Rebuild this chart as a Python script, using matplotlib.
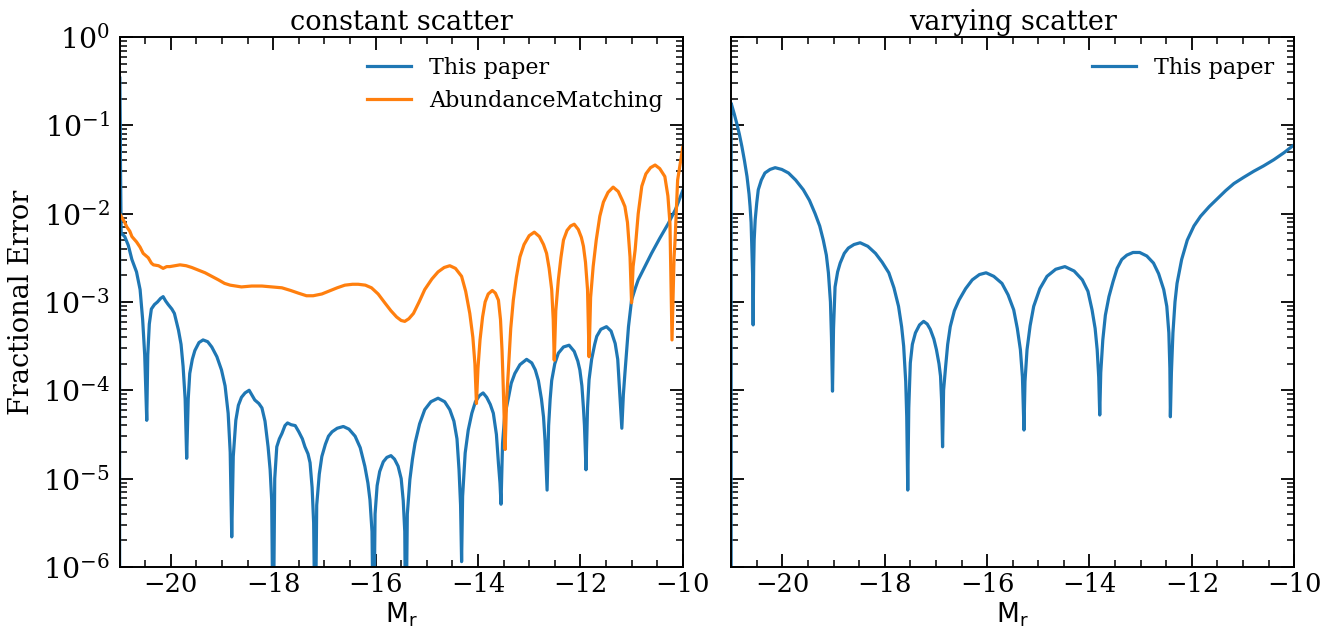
import numpy as np
import matplotlib
matplotlib.use("Agg")
import matplotlib.pyplot as plt
from matplotlib.ticker import LogLocator, MultipleLocator, NullFormatter

# ---------------- datos ----------------
# panel izquierdo, "This paper" (constant scatter): M_r y log10(error)
x_const_paper = [-21.0, -21.0, -20.97, -20.90, -20.83, -20.76, -20.67, -20.60, -20.55, -20.51,
                 -20.47,
                 -20.45, -20.42, -20.38, -20.32, -20.26, -20.20, -20.15, -20.10, -20.05, -19.98,
                 -19.93, -19.85, -19.80, -19.76, -19.72, -19.69,
                 -19.66, -19.63, -19.58, -19.53, -19.45, -19.37, -19.28, -19.20, -19.10, -19.01,
                 -18.94, -18.88, -18.84, -18.81,
                 -18.78, -18.73, -18.68, -18.62, -18.55, -18.47, -18.42, -18.36, -18.28, -18.22,
                 -18.16, -18.10, -18.06, -18.03, -18.00,
                 -17.97, -17.93, -17.88, -17.83, -17.77, -17.72, -17.65, -17.57, -17.50, -17.43,
                 -17.38, -17.32, -17.28, -17.24, -17.21, -17.18,
                 -17.15, -17.10, -17.05, -16.98, -16.92, -16.85, -16.75, -16.63, -16.52, -16.40,
                 -16.30, -16.21, -16.15, -16.11, -16.07, -16.04,
                 -16.01, -15.97, -15.92, -15.85, -15.78, -15.70, -15.63, -15.56, -15.50, -15.46,
                 -15.43, -15.41,
                 -15.38, -15.33, -15.28, -15.23, -15.14, -15.04, -14.92, -14.78, -14.65, -14.55,
                 -14.47, -14.41, -14.37, -14.34, -14.32,
                 -14.30, -14.25, -14.19, -14.12, -14.05, -13.97, -13.90, -13.83, -13.76, -13.70,
                 -13.64, -13.60, -13.57, -13.55,
                 -13.52, -13.48, -13.41, -13.35, -13.28, -13.18, -13.05, -12.95, -12.88, -12.82,
                 -12.76, -12.72, -12.69, -12.65,
                 -12.62, -12.59, -12.56, -12.50, -12.43, -12.33, -12.22, -12.12, -12.05, -12.01,
                 -11.97, -11.94, -11.92, -11.89,
                 -11.86, -11.83, -11.78, -11.72, -11.68, -11.60, -11.49, -11.40, -11.32, -11.27,
                 -11.23, -11.19,
                 -11.16, -11.13, -11.06, -11.00, -10.93, -10.87, -10.74, -10.61, -10.45, -10.28,
                 -10.14, -10.0]
logy_const_paper = [-7.0, -0.45, -2.22, -2.26, -2.36, -2.52, -2.66, -2.86, -3.20, -3.60,
                    -4.34,
                    -3.60, -3.25, -3.08, -3.03, -3.00, -2.96, -2.94, -2.99, -3.03, -3.08,
                    -3.13, -3.32, -3.48, -3.73, -4.10, -4.77,
                    -4.10, -3.81, -3.65, -3.55, -3.46, -3.43, -3.45, -3.51, -3.62, -3.77,
                    -3.95, -4.26, -4.70, -5.66,
                    -4.75, -4.34, -4.17, -4.08, -4.03, -4.00, -4.05, -4.11, -4.15, -4.20,
                    -4.35, -4.64, -4.90, -5.24, -7.0,
                    -5.00, -4.64, -4.55, -4.49, -4.40, -4.37, -4.39, -4.40, -4.47, -4.55,
                    -4.64, -4.72, -4.82, -5.10, -5.50, -7.0,
                    -5.30, -4.95, -4.75, -4.61, -4.52, -4.47, -4.43, -4.41, -4.44, -4.52,
                    -4.65, -4.86, -5.05, -5.24, -5.60, -7.0,
                    -5.40, -5.08, -4.92, -4.81, -4.76, -4.74, -4.78, -4.86, -5.00, -5.25,
                    -5.60, -7.0,
                    -5.40, -5.01, -4.78, -4.60, -4.38, -4.22, -4.13, -4.09, -4.13, -4.22,
                    -4.35, -4.55, -4.90, -5.30, -5.94,
                    -5.20, -4.71, -4.45, -4.26, -4.13, -4.06, -4.03, -4.08, -4.16, -4.26,
                    -4.50, -4.83, -5.05, -5.29,
                    -4.60, -4.30, -4.10, -3.92, -3.81, -3.71, -3.65, -3.69, -3.77, -3.89,
                    -4.10, -4.30, -4.57, -5.13,
                    -4.40, -4.10, -3.89, -3.70, -3.58, -3.51, -3.49, -3.56, -3.67, -3.77,
                    -3.95, -4.20, -4.40, -4.90,
                    -4.20, -3.88, -3.65, -3.48, -3.39, -3.31, -3.28, -3.33, -3.47, -3.65,
                    -4.03, -4.43,
                    -4.05, -3.81, -3.28, -2.98, -2.85, -2.75, -2.60, -2.45, -2.28, -2.11,
                    -1.95, -1.74]

# panel izquierdo, "AbundanceMatching"
x_const_am = [-21.0, -20.97, -20.90, -20.86, -20.80, -20.76, -20.67, -20.60, -20.54, -20.44,
              -20.38, -20.34, -20.24, -20.15, -20.08, -20.02, -19.82, -19.70, -19.59, -19.46,
              -19.33, -19.20, -19.07, -18.95, -18.84, -18.62, -18.42, -18.22, -18.02, -17.83,
              -17.66, -17.51, -17.35, -17.22, -17.05, -16.92, -16.75, -16.60, -16.45, -16.34,
              -16.20, -16.08, -15.95, -15.82, -15.70, -15.59, -15.50, -15.43, -15.35, -15.26,
              -15.15, -15.04, -14.90, -14.78, -14.66, -14.55, -14.44, -14.32, -14.24, -14.16,
              -14.10, -14.06, -14.03,
              -14.00, -13.96, -13.91, -13.86, -13.80, -13.72, -13.66, -13.60, -13.56, -13.53,
              -13.51, -13.47,
              -13.44, -13.41, -13.36, -13.31, -13.25, -13.18, -13.10, -13.00, -12.90, -12.80,
              -12.72, -12.66, -12.61, -12.56, -12.53, -12.51,
              -12.48, -12.43, -12.38, -12.33, -12.26, -12.19, -12.12, -12.04, -11.98, -11.94,
              -11.90, -11.86, -11.83,
              -11.80, -11.75, -11.69, -11.62, -11.55, -11.46, -11.36, -11.26, -11.18, -11.13,
              -11.08, -11.03, -11.00,
              -10.97, -10.93, -10.87, -10.80, -10.72, -10.63, -10.54, -10.45, -10.35, -10.29,
              -10.25, -10.21,
              -10.17, -10.15, -10.10, -10.0]
logy_const_am = [-2.00, -2.03, -2.10, -2.15, -2.20, -2.26, -2.32, -2.38, -2.45, -2.50,
                 -2.56, -2.58, -2.59, -2.62, -2.60, -2.60, -2.58, -2.59, -2.61, -2.64,
                 -2.67, -2.71, -2.75, -2.79, -2.81, -2.83, -2.82, -2.82, -2.83, -2.84,
                 -2.87, -2.90, -2.93, -2.93, -2.91, -2.88, -2.84, -2.81, -2.80, -2.80,
                 -2.81, -2.84, -2.91, -3.01, -3.10, -3.17, -3.21, -3.22, -3.19, -3.13,
                 -3.00, -2.86, -2.74, -2.66, -2.61, -2.59, -2.62, -2.71, -2.88, -3.13,
                 -3.40, -3.70, -4.15,
                 -3.75, -3.43, -3.17, -3.00, -2.91, -2.87, -2.90, -2.98, -3.20, -3.55,
                 -3.89, -4.67,
                 -4.10, -3.81, -3.30, -2.98, -2.72, -2.49, -2.35, -2.25, -2.21, -2.26,
                 -2.35, -2.45, -2.62, -2.86, -3.20, -3.66,
                 -3.10, -2.75, -2.50, -2.30, -2.19, -2.14, -2.12, -2.18, -2.27, -2.37,
                 -2.55, -2.86, -3.62,
                 -2.95, -2.60, -2.30, -2.03, -1.87, -1.76, -1.70, -1.75, -1.85, -1.92,
                 -2.10, -2.49, -3.01,
                 -2.60, -2.41, -2.00, -1.69, -1.55, -1.48, -1.45, -1.49, -1.58, -1.80,
                 -2.11, -3.43,
                 -2.50, -2.30, -1.62, -1.25]

# panel derecho, "This paper" (varying scatter)
x_vary_paper = [-21.0, -21.0, -20.99, -20.94, -20.89, -20.84, -20.79, -20.74, -20.69, -20.65,
                -20.63, -20.61, -20.60, -20.58, -20.57,
                -20.56, -20.55, -20.53, -20.50, -20.47, -20.41, -20.34, -20.24, -20.14, -20.01,
                -19.88, -19.74, -19.59, -19.47, -19.36, -19.27, -19.20, -19.14, -19.10, -19.06,
                -19.04, -19.02,
                -19.00, -18.97, -18.92, -18.87, -18.79, -18.71, -18.60, -18.48, -18.33, -18.18,
                -18.05, -17.92, -17.82, -17.73, -17.67, -17.63, -17.59, -17.57, -17.55,
                -17.53, -17.50, -17.46, -17.40, -17.32, -17.24, -17.17, -17.11, -17.04, -16.99,
                -16.94, -16.91, -16.89, -16.87,
                -16.85, -16.81, -16.77, -16.72, -16.64, -16.55, -16.42, -16.29, -16.15, -16.02,
                -15.87, -15.71, -15.59, -15.48, -15.41, -15.35, -15.31, -15.28,
                -15.26, -15.22, -15.16, -15.09, -14.97, -14.83, -14.66, -14.48, -14.30, -14.14,
                -14.03, -13.95, -13.89, -13.85, -13.82, -13.80,
                -13.78, -13.74, -13.69, -13.62, -13.54, -13.46, -13.37, -13.27, -13.15, -13.02,
                -12.88, -12.75, -12.65, -12.55, -12.49, -12.45, -12.43, -12.42,
                -12.40, -12.37, -12.33, -12.29, -12.20, -12.09, -11.96, -11.83, -11.66, -11.50,
                -11.34, -11.18, -10.99, -10.79, -10.60, -10.40, -10.20, -10.0]
logy_vary_paper = [-7.0, -0.75, -0.77, -0.87, -0.98, -1.10, -1.24, -1.40, -1.58, -1.78,
                   -1.92, -2.10, -2.30, -2.70, -3.26,
                   -2.60, -2.30, -2.07, -1.88, -1.73, -1.62, -1.54, -1.50, -1.48, -1.50,
                   -1.54, -1.62, -1.73, -1.85, -2.00, -2.14, -2.30, -2.47, -2.67, -3.00,
                   -3.40, -4.01,
                   -3.30, -2.83, -2.66, -2.56, -2.45, -2.39, -2.35, -2.33, -2.37, -2.45,
                   -2.55, -2.67, -2.84, -3.05, -3.28, -3.50, -3.90, -4.30, -5.13,
                   -4.20, -3.69, -3.48, -3.35, -3.26, -3.22, -3.25, -3.31, -3.42, -3.54,
                   -3.70, -3.84, -4.10, -4.64,
                   -4.00, -3.73, -3.48, -3.28, -3.10, -2.98, -2.85, -2.75, -2.69, -2.67,
                   -2.71, -2.79, -2.92, -3.09, -3.30, -3.54, -3.85, -4.45,
                   -3.90, -3.54, -3.27, -3.05, -2.85, -2.71, -2.63, -2.60, -2.65, -2.75,
                   -2.88, -3.09, -3.30, -3.54, -3.85, -4.28,
                   -3.80, -3.43, -3.15, -2.94, -2.77, -2.62, -2.52, -2.47, -2.44, -2.44,
                   -2.48, -2.56, -2.68, -2.86, -3.05, -3.35, -3.75, -4.30,
                   -3.80, -3.35, -3.00, -2.79, -2.52, -2.30, -2.14, -2.03, -1.92, -1.83,
                   -1.74, -1.66, -1.59, -1.52, -1.46, -1.39, -1.31, -1.22]

# ---------------- estilo ----------------
plt.rcParams['font.family'] = 'DejaVu Serif'
plt.rcParams['mathtext.fontset'] = 'dejavuserif'


def estiloEjes(ax):
    ax.set_yscale('log')
    ax.set_xlim(-21, -10)
    ax.set_ylim(1e-6, 1)
    ax.xaxis.set_major_locator(MultipleLocator(2))
    ax.xaxis.set_minor_locator(MultipleLocator(0.5))
    ax.yaxis.set_major_locator(LogLocator(base=10, numticks=10))
    ax.yaxis.set_minor_locator(LogLocator(base=10, subs=np.arange(2, 10), numticks=10))
    ax.yaxis.set_minor_formatter(NullFormatter())
    ax.tick_params(which='both', direction='in', top=True, right=True)
    ax.tick_params(axis='x', labelsize=18.5)
    ax.tick_params(axis='y', labelsize=20.5, pad=7)
    ax.tick_params(which='major', length=9.5, width=1.3)
    ax.tick_params(which='minor', length=5, width=1.1)
    for s in ax.spines.values():
        s.set_linewidth(1.4)
    ax.set_xlabel(r'$\mathsf{M_r}$', fontsize=19, labelpad=3)


fig = plt.figure(figsize=(13.44, 6.37), dpi=100)
ax1 = fig.add_axes([0.089, 0.110, 0.419, 0.832])
ax2 = fig.add_axes([0.544, 0.110, 0.419, 0.832])

ax1.plot(x_const_paper, 10 ** np.array(logy_const_paper), color='#1f77b4', lw=2.3, label='This paper')
ax1.plot(x_const_am, 10 ** np.array(logy_const_am), color='#ff7f0e', lw=2.3, label='AbundanceMatching')
estiloEjes(ax1)
ax1.set_title('constant scatter', fontsize=19.5, pad=5)
ax1.set_ylabel('Fractional Error', fontsize=19.5, labelpad=6)
ax1.legend(loc='upper right', frameon=False, fontsize=16)

ax2.plot(x_vary_paper, 10 ** np.array(logy_vary_paper), color='#1f77b4', lw=2.3, label='This paper')
estiloEjes(ax2)
ax2.tick_params(axis='y', which='both', labelleft=False)
ax2.set_title('varying scatter', fontsize=19.5, pad=5)
ax2.legend(loc='upper right', frameon=False, fontsize=16)

fig.savefig('out.png', dpi=100)
